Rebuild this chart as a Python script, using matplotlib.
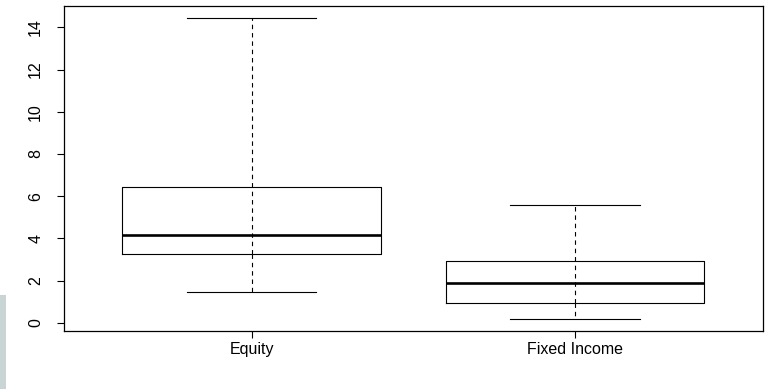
import matplotlib
matplotlib.use("Agg")
import matplotlib.pyplot as plt
from matplotlib.patches import Rectangle

# five-number summaries per asset class
categories = ["Equity", "Fixed Income"]
whisker_low = [1.46, 0.18]
q1 = [3.28, 0.94]
median = [4.14, 1.89]
q3 = [6.43, 2.94]
whisker_high = [14.44, 5.57]
y_ticks = [0, 2, 4, 6, 8, 10, 12, 14]

plt.rcParams["font.family"] = ["Liberation Sans", "DejaVu Sans"]

stats = [{"label": c, "whislo": lo, "q1": a, "med": m, "q3": b, "whishi": hi, "fliers": []}
         for c, lo, a, m, b, hi in zip(categories, whisker_low, q1, median, q3, whisker_high)]
positions = [1, 2]

fig = plt.figure(figsize=(7.68, 3.89), dpi=100)
ax = fig.add_axes([64 / 768, 58 / 389, 698.5 / 768, 325 / 389])

lw = 0.8
dash = (0, (4, 3.5))
# dashed stem runs through the whole box, like base R
ax.vlines(positions, q1, q3, colors="black", linewidth=lw, linestyle=dash, zorder=1)
ax.bxp(stats, positions=positions, widths=0.8, showfliers=False,
       boxprops=dict(color="black", linewidth=lw),
       medianprops=dict(color="black", linewidth=1.9, solid_capstyle="butt"),
       whiskerprops=dict(color="black", linewidth=lw, linestyle=dash),
       capprops=dict(color="black", linewidth=lw),
       capwidths=0.4)

lo, hi = min(whisker_low), max(whisker_high)
pad = (hi - lo) * 0.04
ax.set_ylim(lo - pad, hi + pad)
ax.set_xlim(0.42, 2.58)

ax.set_yticks(y_ticks)
ax.set_yticklabels([str(t) for t in y_ticks], rotation=90, va="center", fontsize=11.5)
ax.set_xticks(positions)
ax.set_xticklabels(categories, fontsize=11.5)
ax.tick_params(axis="both", length=5, width=0.8, color="black")
ax.tick_params(axis="x", pad=3)
ax.tick_params(axis="y", pad=10)
for s in ax.spines.values():
    s.set_linewidth(0.9)

# pale strip at the lower left edge
fig.patches.append(Rectangle((0, 0), 6 / 768, 94 / 389, transform=fig.transFigure,
                             facecolor="#c9d5d5", edgecolor="none"))

fig.savefig("out.png", dpi=100)
